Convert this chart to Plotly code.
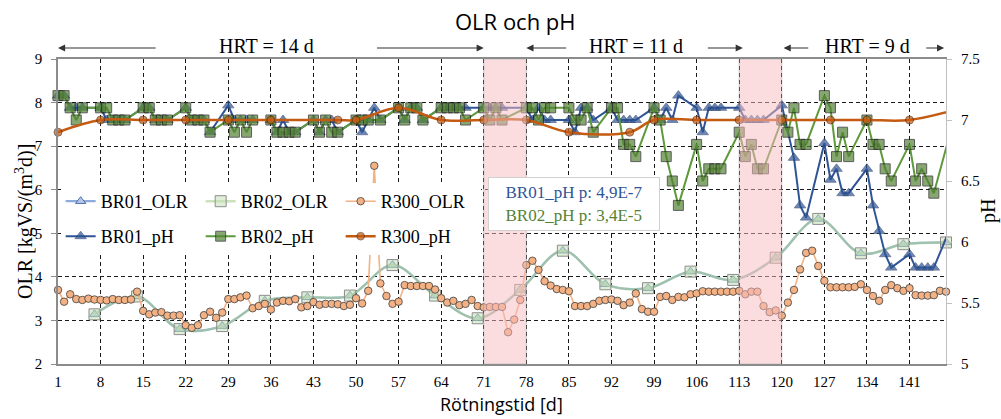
import plotly.graph_objects as go

# ---------------- data ----------------
# Weekly organic loading rate, kgVS/(m3 d)
olr_days = [7, 14, 21, 28, 35, 42, 49, 56, 63, 70, 77, 84, 91, 98, 105, 112, 119, 126, 133, 140, 147]
br01_olr = [3.14, 3.55, 2.80, 2.87, 3.45, 3.53, 3.57, 4.27, 3.57, 3.05, 3.70,
            4.60, 3.83, 3.74, 4.12, 3.93, 4.44, 5.33, 4.54, 4.75, 4.79]
br02_olr = [3.14, 3.55, 2.80, 2.87, 3.45, 3.53, 3.57, 4.27, 3.57, 3.05, 3.70,
            4.60, 3.83, 3.74, 4.12, 3.93, 4.44, 5.33, 4.54, 4.75, 4.79]

# Daily OLR of the full-scale reactor R300 (day 1..147)
r300_olr_days = list(range(1, 148))
r300_olr = [
    3.70, 3.43, 3.60, 3.49, 3.47, 3.50, 3.48, 3.47, 3.46, 3.49,
    3.47, 3.47, 3.48, 3.66, 3.22, 3.14, 3.18, 3.19, 3.11, 3.11,
    3.12, 2.89, 2.83, 2.89, 3.12, 3.20, 3.06, 3.18, 3.49, 3.49,
    3.53, 3.57, 3.28, 3.33, 3.38, 3.25, 3.41, 3.45, 3.44, 3.49,
    3.30, 3.33, 3.42, 3.36, 3.38, 3.38, 3.37, 3.33, 3.36, 3.51,
    3.39, 3.68, 6.55, 3.85, 3.56, 3.38, 3.43, 3.81, 3.79, 3.79,
    3.79, 3.79, 3.71, 3.51, 3.41, 3.45, 3.35, 3.38, 3.47, 3.33,
    3.30, 3.31, 3.31, 3.31, 2.73, 3.02, 3.47, 4.27, 4.37, 4.16,
    3.90, 3.80, 3.72, 3.70, 3.67, 3.33, 3.33, 3.33, 3.38, 3.45,
    3.47, 3.48, 3.45, 3.35, 3.41, 3.62, 3.26, 3.20, 3.20, 3.54,
    3.56, 3.47, 3.54, 3.53, 3.60, 3.62, 3.67, 3.66, 3.66, 3.66,
    3.66, 3.66, 3.68, 3.60, 3.66, 3.66, 3.33, 3.19, 3.23, 3.11,
    3.41, 3.70, 4.17, 4.55, 4.60, 4.25, 3.91, 3.76, 3.76, 3.76,
    3.76, 3.77, 3.83, 3.70, 3.56, 3.45, 3.70, 3.81, 3.74, 3.68,
    3.74, 3.58, 3.57, 3.57, 3.58, 3.68, 3.66,
]

# pH, BR02
br02_ph_days = [1, 2, 3, 4, 5, 8, 9, 10, 11, 12, 15, 16, 17, 18, 19,
                22, 23, 24, 25, 26, 29, 30, 31, 32, 33, 36, 37, 38, 39, 40,
                43, 44, 45, 46, 47, 50, 51, 52, 54, 57, 58, 59, 60, 61,
                64, 65, 66, 67, 68, 71, 72, 73, 74, 78, 79, 80, 81, 82,
                85, 86, 87, 88, 89, 92, 93, 94, 95, 96, 99, 100, 101, 102, 103,
                106, 107, 108, 109, 110, 113, 114, 115, 116, 117,
                120, 121, 122, 123, 124, 127, 128, 129, 130, 131,
                134, 135, 136, 137, 138, 141, 142, 143, 144, 145, 148]
br02_ph = [7.2, 7.2, 7.1, 7.0, 7.1, 7.1, 7.1, 7.0, 7.0, 7.0, 7.1, 7.1, 7.0, 7.0, 7.0,
           7.1, 7.0, 7.0, 7.0, 6.9, 7.0, 6.9, 7.0, 6.9, 7.0, 7.0, 6.9, 6.9, 6.9, 6.9,
           7.0, 6.9, 7.0, 6.9, 6.9, 7.0, 7.0, 7.0, 7.0, 7.1, 7.0, 7.1, 7.1, 7.0,
           7.1, 7.1, 7.1, 7.1, 7.0, 7.1, 7.0, 7.1, 7.0, 7.1, 7.1, 7.0, 7.1, 7.1,
           7.1, 7.0, 7.0, 7.1, 6.9, 7.1, 7.1, 6.8, 6.8, 6.7, 7.1, 7.0, 6.7, 6.5, 6.3,
           6.8, 6.5, 6.6, 6.6, 6.6, 6.9, 6.7, 6.8, 6.6, 6.6,
           7.0, 6.9, 7.1, 6.8, 6.8, 7.2, 7.1, 6.7, 6.9, 6.7,
           7.0, 6.8, 6.8, 6.6, 6.5, 6.8, 6.5, 6.6, 6.5, 6.4, 6.95]

# pH, BR01
br01_ph_days = [1, 2, 3, 4, 5, 8, 9, 10, 11, 12, 15, 16, 17, 18, 19,
                22, 23, 24, 25, 26, 29, 30, 31, 32, 33, 36, 37, 38, 39, 40,
                43, 44, 45, 46, 47, 50, 51, 52, 53, 54, 57, 58, 59, 60, 61,
                64, 65, 66, 67, 68, 71, 72, 73, 74, 78, 79, 80, 81, 82,
                85, 86, 87, 88, 89, 92, 93, 94, 95, 96, 99, 100, 101, 102, 103,
                106, 107, 108, 109, 110, 113, 114, 115, 116, 117,
                120, 122, 123, 124, 127, 128, 129, 130, 131,
                134, 135, 136, 137, 138, 141, 142, 143, 144, 145, 148]
br01_ph = [7.2, 7.2, 7.1, 7.1, 7.1, 7.1, 7.0, 7.0, 7.0, 7.0, 7.1, 7.1, 7.0, 7.0, 7.0,
           7.1, 7.0, 7.0, 7.0, 6.9, 7.12, 7.0, 7.0, 7.0, 7.0, 7.0, 6.9, 7.0, 6.9, 6.9,
           7.0, 6.9, 7.0, 7.0, 6.9, 7.0, 6.9, 7.0, 7.1, 7.0, 7.1, 7.0, 7.1, 7.1, 7.0,
           7.1, 7.1, 7.1, 7.1, 7.1, 7.1, 7.1, 7.1, 7.1, 7.1, 7.0, 7.1, 7.0, 7.0,
           7.0, 6.9, 7.1, 7.1, 7.0, 7.1, 7.0, 7.0, 7.0, 7.0, 7.1, 7.0, 7.1, 7.0, 7.2,
           7.1, 6.9, 7.1, 7.1, 7.1, 7.1, 7.0, 7.0, 7.0, 7.0,
           7.12, 6.69, 6.30, 6.20, 6.81, 6.51, 6.6, 6.4, 6.4,
           6.6, 6.3, 6.09, 5.9, 5.79, 5.9, 5.79, 5.79, 5.79, 5.79, 6.15]

# pH, R300
r300_ph_days = [1, 8, 15, 22, 29, 36, 47, 50, 57, 64, 71, 78, 85, 95, 99,
                106, 113, 120, 128, 134, 141, 149]
r300_ph = [6.9, 7.0, 7.0, 7.0, 7.0, 7.0, 7.0, 7.0, 7.1, 7.0, 7.0, 7.0, 6.9, 6.9, 7.0,
           7.0, 7.0, 7.0, 7.0, 7.0, 7.0, 7.09]

x_ticks = list(range(1, 142, 7))
x_range = [1, 147]
shaded_periods = [(71, 78), (113, 120)]
hrt_periods = [("HRT = 14 d", 1, 71, 35.3, 17.3, 53.2),
               ("HRT = 11 d", 78, 113.6, 96.1, 84.8, 107.6),
               ("HRT = 9 d", 120.3, 146.7, 134.1, 124.6, 143.5)]
p_values = [("BR01_pH p: 4,9E-7", "#2F5597"), ("BR02_pH p: 3,4E-5", "#548235")]

SERIF = "Liberation Serif"
SANS = "Open Sans"


def sizes_for(days, s):
    # hide markers that fall outside the visible day range
    return [s if x_range[0] <= d <= x_range[1] else 0 for d in days]


fig = go.Figure()

fig.add_trace(go.Scatter(
    x=olr_days, y=br01_olr, name="BR01_OLR", mode="lines+markers",
    line=dict(color="#8FAADC", width=2.2, shape="spline", smoothing=1),
    marker=dict(symbol="triangle-up", size=9, color="#B4C7E7",
                line=dict(color="#2F5597", width=0.8)),
    legend="legend", cliponaxis=False))

fig.add_trace(go.Scatter(
    x=olr_days, y=br02_olr, name="BR02_OLR", mode="lines+markers",
    line=dict(color="rgba(169,209,142,0.6)", width=2.5, shape="spline", smoothing=1),
    marker=dict(symbol="square", size=11, color="rgba(197,224,180,0.55)",
                line=dict(color="#8C8C8C", width=1)),
    legend="legend", cliponaxis=False))

fig.add_trace(go.Scatter(
    x=r300_olr_days, y=r300_olr, name="R300_OLR", mode="lines+markers",
    line=dict(color="#F4B183", width=1.6),
    marker=dict(symbol="circle", size=7.5, color="#F4B183",
                line=dict(color="#3F3F3F", width=0.8)),
    legend="legend", cliponaxis=False))

fig.add_trace(go.Scatter(
    x=br01_ph_days, y=br01_ph, name="BR01_pH", mode="lines+markers", yaxis="y2",
    line=dict(color="#2F5597", width=2),
    marker=dict(symbol="triangle-up", size=sizes_for(br01_ph_days, 10), color="#2F5597",
                line=dict(color="#1F3864", width=0.8)),
    legend="legend2", cliponaxis=False))

fig.add_trace(go.Scatter(
    x=br02_ph_days, y=br02_ph, name="BR02_pH", mode="lines+markers", yaxis="y2",
    line=dict(color="#5E9A3C", width=2),
    marker=dict(symbol="square", size=sizes_for(br02_ph_days, 10), color="#548235",
                line=dict(color="#1A1A1A", width=1)),
    legend="legend2", cliponaxis=False))

fig.add_trace(go.Scatter(
    x=r300_ph_days, y=r300_ph, name="R300_pH", mode="lines+markers", yaxis="y2",
    line=dict(color="#C55A11", width=2.5, shape="spline", smoothing=1),
    marker=dict(symbol="circle", size=sizes_for(r300_ph_days, 8), color="#C55A11",
                line=dict(color="#3A1A05", width=0.8)),
    legend="legend2", cliponaxis=False))

# shaded periods
shapes = []
for x0, x1 in shaded_periods:
    shapes.append(dict(type="rect", xref="x", yref="paper", x0=x0, x1=x1, y0=0, y1=1,
                       fillcolor="rgb(249,187,193)", opacity=0.5, layer="above",
                       line=dict(color="rgb(140,140,140)", width=1)))

annotations = []
# HRT labels and arrows
Y_HRT = 1.041
Y_ARR = 1.036
for label, head_l, head_r, xc, tail_l, tail_r in hrt_periods:
    annotations.append(dict(text=label, xref="x", yref="paper", x=xc, y=Y_HRT,
                            showarrow=False, font=dict(family=SERIF, size=20, color="black"),
                            xanchor="center", yanchor="middle"))
    for head, tail in ((head_l, tail_l), (head_r, tail_r)):
        annotations.append(dict(text="", xref="x", yref="paper", x=head, y=Y_ARR,
                                axref="x", ax=tail, ayref="pixel", ay=0,
                                showarrow=True, arrowhead=2, arrowsize=1.3,
                                arrowwidth=1.1, arrowcolor="#333333", standoff=0))

# p-value box
p_text = "<br>".join(f"<span style='color:{c}'>{t}</span>" for t, c in p_values)
annotations.append(dict(text=p_text, xref="paper", yref="paper",
                        x=(574 - 58) / 888, y=(364 - 204) / 305,
                        xanchor="center", yanchor="middle", showarrow=False,
                        align="center", bgcolor="white", bordercolor="#D0D0D0",
                        borderwidth=1, borderpad=4, width=162, height=44,
                        font=dict(family=SERIF, size=17)))

# titles
annotations.append(dict(text="OLR och pH", xref="paper", yref="paper",
                        x=(515.5 - 58) / 888, y=(364 - 21) / 305, showarrow=False,
                        xanchor="center", yanchor="middle",
                        font=dict(family=SANS, size=22, color="black")))
annotations.append(dict(text="Rötningstid [d]", xref="paper", yref="paper",
                        x=(501 - 58) / 888, y=(364 - 404) / 305, showarrow=False,
                        xanchor="center", yanchor="middle",
                        font=dict(family=SANS, size=18, color="black")))
annotations.append(dict(text="OLR [kgVS/(m<sup>3</sup>d)]", xref="paper", yref="paper",
                        x=(24 - 58) / 888, y=(364 - 222) / 305, showarrow=False,
                        textangle=-90, xanchor="center", yanchor="middle",
                        font=dict(family=SERIF, size=20, color="black")))
annotations.append(dict(text="pH", xref="paper", yref="paper",
                        x=(988 - 58) / 888, y=(364 - 211) / 305, showarrow=False,
                        textangle=-90, xanchor="center", yanchor="middle",
                        font=dict(family=SERIF, size=20, color="black")))

tick_font = dict(family=SERIF, size=15, color="black")
grid_kw = dict(showgrid=True, gridcolor="#1A1A1A", gridwidth=0.8, griddash="4px,3px")
legend_kw = dict(orientation="h", xanchor="left", yanchor="top", bgcolor="white",
                 borderwidth=0, itemwidth=30, entrywidth=95, tracegroupgap=0,
                 font=dict(family=SERIF, size=18, color="black"))

fig.update_layout(
    width=1001, height=419,
    margin=dict(l=58, r=55, t=59, b=55),
    paper_bgcolor="white", plot_bgcolor="white",
    showlegend=True,
    legend=dict(x=0.003, y=(364 - 183) / 305, **legend_kw),
    legend2=dict(x=0.003, y=(364 - 218) / 305, **legend_kw),
    xaxis=dict(range=x_range, tickvals=x_ticks, tickfont=tick_font,
               showline=True, linecolor="#8C8C8C", linewidth=1.5, mirror=True,
               ticks="", ticklabelstandoff=3, zeroline=False, **grid_kw),
    yaxis=dict(range=[2, 9], tick0=2, dtick=1, tickfont=tick_font,
               showline=True, linecolor="#8C8C8C", linewidth=1.5,
               ticks="outside", ticklen=5, tickcolor="#8C8C8C",
               ticklabelstandoff=6, zeroline=False, **grid_kw),
    yaxis2=dict(range=[5, 7.5], tick0=5, dtick=0.5, overlaying="y", side="right",
                tickfont=tick_font, showgrid=False, showline=True,
                linecolor="#BFBFBF", linewidth=1.2, ticks="outside", ticklen=5,
                tickcolor="#BFBFBF", ticklabelstandoff=6, zeroline=False),
    shapes=shapes,
    annotations=annotations,
)

fig.write_html("out.html")
